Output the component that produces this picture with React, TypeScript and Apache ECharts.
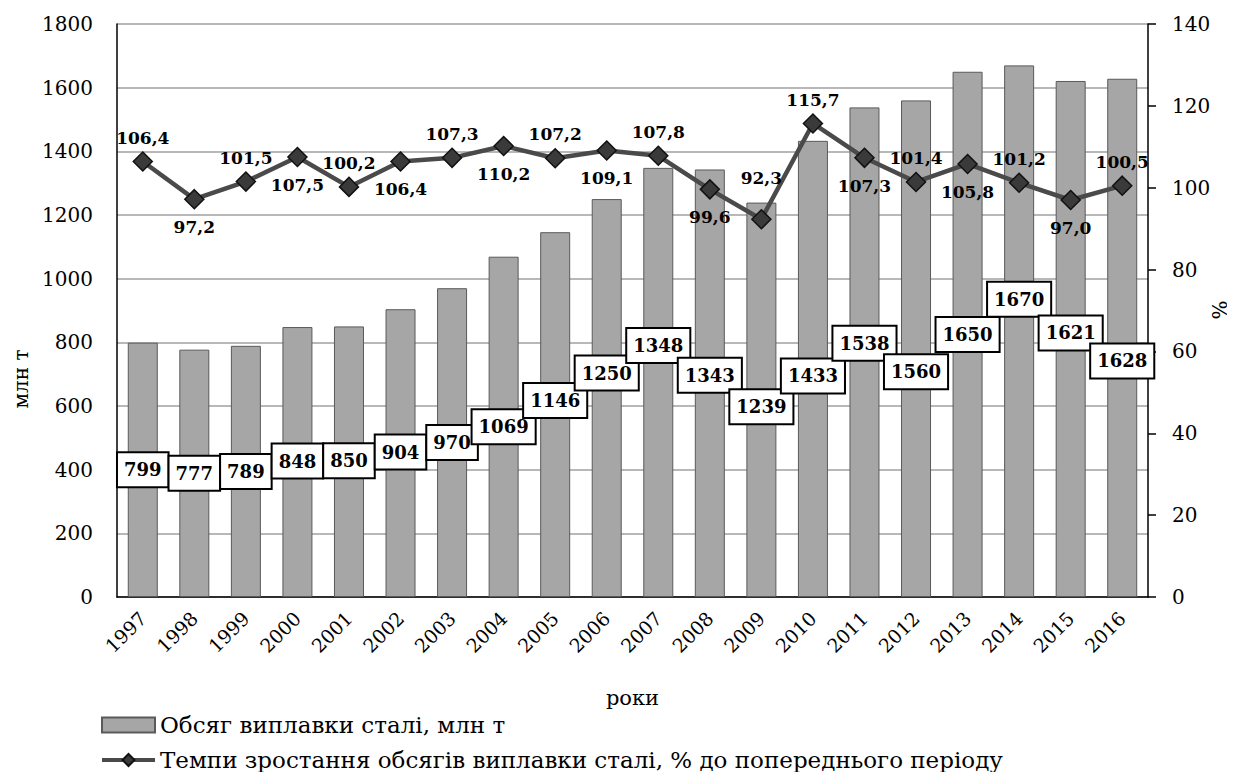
import React, { useEffect, useRef } from "react";
import * as echarts from "echarts";

const years = ["1997","1998","1999","2000","2001","2002","2003","2004","2005","2006","2007","2008","2009","2010","2011","2012","2013","2014","2015","2016"];
const steelOutput = [799, 777, 789, 848, 850, 904, 970, 1069, 1146, 1250, 1348, 1343, 1239, 1433, 1538, 1560, 1650, 1670, 1621, 1628];
const growthRate = [106.4, 97.2, 101.5, 107.5, 100.2, 106.4, 107.3, 110.2, 107.2, 109.1, 107.8, 99.6, 92.3, 115.7, 107.3, 101.4, 105.8, 101.2, 97.0, 100.5];
const growthLabelSide = ["top","bottom","top","bottom","top","bottom","top","bottom","top","bottom","top","bottom","top","top","bottom","top","bottom","top","bottom","top"];
// vertical label nudges (px) for the boxed bar labels
const barLabelShift = [0, 0, 0, -1, -1, -1, 0, 0, -14, -25, -37, -8, 7, 7, -9, 23, 0, -32, -6, 23];

const leftTicks = { min: 0, max: 1800, interval: 200 };
const rightTicks = { min: 0, max: 140, interval: 20 };

const SERIF = "DejaVu Serif";

export default function App() {
  const ref = useRef<HTMLDivElement>(null);
  useEffect(() => {
    if (!ref.current) return;
    const chart = echarts.init(ref.current, null, { renderer: "svg" });
    chart.setOption({
      animation: false,
      backgroundColor: "#ffffff",
      textStyle: { fontFamily: SERIF, color: "#000" },
      grid: { left: 117, right: 87, top: 24, bottom: 183, containLabel: false },
      legend: {
        orient: "vertical",
        left: 100,
        top: 710,
        padding: 0,
        itemWidth: 53,
        itemHeight: 15,
        itemGap: 5,
        textStyle: { fontFamily: SERIF, fontSize: 23, color: "#000", lineHeight: 30 },
        data: [
          { name: "Обсяг виплавки сталі, млн т", icon: "rect" },
          {
            name: "Темпи зростання обсягів виплавки сталі, % до попереднього періоду",
            lineStyle: { width: 4, color: "#4a4a4a" },
          },
        ],
      },
      xAxis: {
        type: "category",
        data: years,
        name: "роки",
        nameLocation: "middle",
        nameGap: 90,
        nameTextStyle: { fontFamily: SERIF, fontSize: 21, color: "#000" },
        axisLine: { show: true, lineStyle: { color: "#000", width: 1.5 } },
        axisTick: { show: false },
        axisLabel: { rotate: 45, margin: 18, fontSize: 19, color: "#000", fontFamily: SERIF, interval: 0 },
      },
      yAxis: [
        {
          type: "value",
          ...leftTicks,
          position: "left",
          axisLine: { show: true, lineStyle: { color: "#000", width: 1.5 } },
          axisTick: { show: false },
          axisLabel: { margin: 24, fontSize: 20, color: "#000", fontFamily: SERIF, formatter: (v: number) => String(v) },
          splitLine: { show: true, lineStyle: { color: "#a0a0a0", width: 1.5 } },
        },
        {
          type: "value",
          ...rightTicks,
          position: "right",
          axisLine: { show: true, lineStyle: { color: "#000", width: 1.5 } },
          axisTick: { show: true, inside: false, length: 8, lineStyle: { color: "#000", width: 1.5 } },
          axisLabel: { margin: 24, fontSize: 20, color: "#000", fontFamily: SERIF, formatter: (v: number) => String(v) },
          splitLine: { show: false },
        },
      ],
      graphic: [
        {
          type: "text",
          x: 21,
          y: 379,
          rotation: Math.PI / 2,
          style: { text: "млн т", fontFamily: SERIF, fontSize: 20, fill: "#000", align: "center", verticalAlign: "middle" },
        },
        {
          type: "text",
          x: 1220,
          y: 310,
          rotation: Math.PI / 2,
          style: { text: "%", fontFamily: SERIF, fontSize: 20, fill: "#000", align: "center", verticalAlign: "middle" },
        },
      ],
      series: [
        {
          name: "Обсяг виплавки сталі, млн т",
          type: "bar",
          yAxisIndex: 0,
          barWidth: 30,
          itemStyle: { color: "#a6a6a6", borderColor: "#5a5a5a", borderWidth: 1 },
          label: {
            show: true,
            position: "inside",
            fontFamily: SERIF,
            fontSize: 18,
            fontWeight: "bold",
            color: "#000",
            backgroundColor: "#fff",
            borderColor: "#000",
            borderWidth: 2,
            lineHeight: 22,
            padding: [6, 6, 5, 6],
          },
          data: steelOutput.map((v, i) => ({ value: v, label: { offset: [0, barLabelShift[i]] } })),
          z: 2,
        },
        {
          name: "Темпи зростання обсягів виплавки сталі, % до попереднього періоду",
          type: "line",
          yAxisIndex: 1,
          symbol: "diamond",
          symbolSize: 19,
          lineStyle: { color: "#4a4a4a", width: 4.5 },
          itemStyle: { color: "#3a3a3a", borderColor: "#111", borderWidth: 1.5 },
          label: {
            show: true,
            fontFamily: SERIF,
            fontSize: 17,
            fontWeight: "bold",
            color: "#000",
            formatter: (p: any) => p.value.toFixed(1).replace(".", ","),
          },
          data: growthRate.map((v, i) => ({
            value: v,
            label: { position: growthLabelSide[i], distance: growthLabelSide[i] === "top" ? (i === 12 ? 22 : 5) : 9 },
          })),
          z: 5,
        },
      ],
    });
    return () => chart.dispose();
  }, []);
  return <div ref={ref} style={{ width: 1235, height: 780, margin: -8 }} />;
}
